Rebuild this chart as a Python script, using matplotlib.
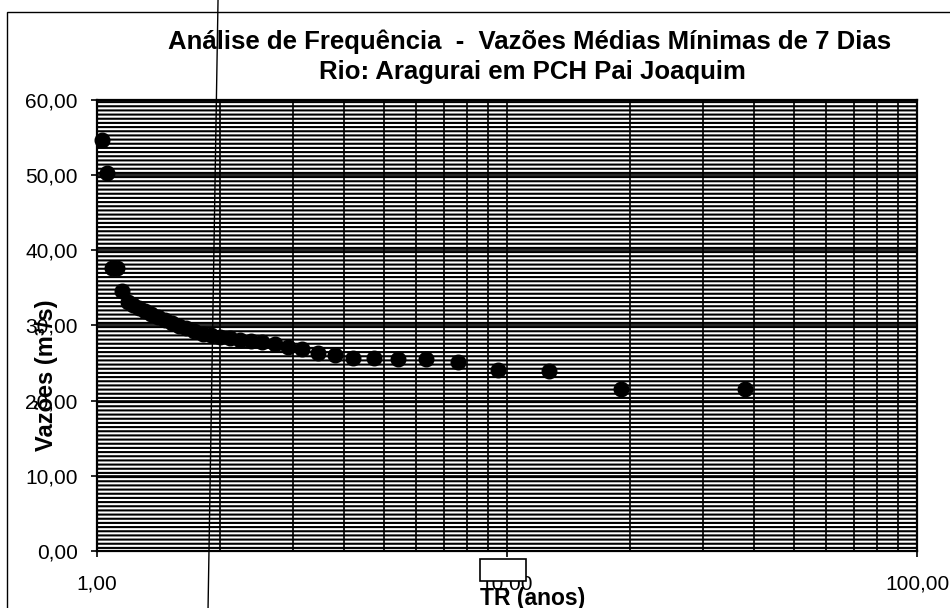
import matplotlib
matplotlib.use("Agg")
import matplotlib.pyplot as plt
from matplotlib.patches import Rectangle
from matplotlib.lines import Line2D
from matplotlib.ticker import FixedLocator, FixedFormatter, LogLocator, NullFormatter

plt.rcParams["font.family"] = ["Liberation Sans", "DejaVu Sans"]
plt.rcParams["hatch.linewidth"] = 1.5

# tempo de retorno (anos) e vazões médias mínimas de 7 dias (m³/s)
tr = [1.027, 1.056, 1.086, 1.118, 1.152, 1.188, 1.226, 1.267, 1.310, 1.357,
      1.407, 1.462, 1.520, 1.583, 1.652, 1.727, 1.810, 1.900, 2.000, 2.111,
      2.235, 2.375, 2.533, 2.714, 2.923, 3.167, 3.455, 3.800, 4.222, 4.750,
      5.429, 6.333, 7.600, 9.500, 12.667, 19.000, 38.000]
vazao = [54.7, 50.3, 37.7, 37.6, 34.6, 33.1, 32.7, 32.3, 31.9, 31.5,
         31.1, 30.7, 30.3, 29.9, 29.6, 29.3, 28.9, 28.7, 28.5, 28.4,
         28.1, 28.0, 27.8, 27.6, 27.2, 26.9, 26.3, 26.1, 25.7, 25.7,
         25.6, 25.6, 25.1, 24.1, 23.9, 21.6, 21.6]

y_ticks = [0, 10, 20, 30, 40, 50, 60]
y_labels = ["0,00", "10,00", "20,00", "30,00", "40,00", "50,00", "60,00"]
x_ticks = [1, 10, 100]
x_labels = ["1,00", "10,00", "100,00"]

fig = plt.figure(figsize=(9.5, 6.08), dpi=100)
ax = fig.add_axes([0.1021, 0.0938, 0.8632, 0.7417])

# fundo hachurado (aparência da cópia escaneada)
ax.add_patch(Rectangle((0, 0), 1, 1, transform=ax.transAxes, facecolor="white",
                       edgecolor="black", hatch="----", linewidth=0, zorder=0))

ax.set_xscale("log")
ax.set_xlim(1, 100)
ax.set_ylim(0, 60)

ax.xaxis.set_major_locator(FixedLocator(x_ticks))
ax.xaxis.set_major_formatter(FixedFormatter(x_labels))
ax.xaxis.set_minor_locator(LogLocator(base=10, subs=range(2, 10)))
ax.xaxis.set_minor_formatter(NullFormatter())
ax.yaxis.set_major_locator(FixedLocator(y_ticks))
ax.yaxis.set_major_formatter(FixedFormatter(y_labels))

ax.grid(True, which="both", axis="x", color="black", linewidth=1.2, zorder=1)
ax.grid(True, which="major", axis="y", color="black", linewidth=1.2, zorder=1)
ax.set_axisbelow(False)

ax.tick_params(axis="both", which="major", direction="out", length=4, width=1.2,
               labelsize=15, colors="black")
ax.tick_params(axis="y", which="major", pad=10)
ax.tick_params(axis="x", which="major", pad=13)
ax.tick_params(axis="x", which="minor", length=0)

for s in ax.spines.values():
    s.set_linewidth(1.6)
    s.set_color("black")

ax.plot(tr, vazao, linestyle="none", marker="o", markersize=10.5,
        markerfacecolor="black", markeredgecolor="black", zorder=5, clip_on=False)

fig.text(0.557, 0.931, "Análise de Frequência  -  Vazões Médias Mínimas de 7 Dias",
         ha="center", va="center", fontsize=18.5, fontweight="bold")
fig.text(0.560, 0.882, "Rio: Aragurai em PCH Pai Joaquim",
         ha="center", va="center", fontsize=18.5, fontweight="bold")

fig.text(0.049, 0.382, "Vazões (m³/s)", rotation=90, ha="center", va="center",
         fontsize=17, fontweight="bold")
fig.text(0.561, 0.016, "TR (anos)", ha="center", va="center",
         fontsize=16.5, fontweight="bold")

# marcas da cópia: moldura, traço vertical e caixa sobre o rótulo 10,00
fig.add_artist(Rectangle((0.0074, -0.1), 1.2, 1.08, transform=fig.transFigure,
                         fill=False, edgecolor="black", linewidth=1.0))
fig.add_artist(Line2D([0.2295, 0.219], [1.0, 0.0], transform=fig.transFigure,
                      color="black", linewidth=1.0))
fig.add_artist(Rectangle((0.5053, 0.0444), 0.0484, 0.0362, transform=fig.transFigure,
                         facecolor="white", edgecolor="black", linewidth=1.2, zorder=3))

fig.savefig("out.png", dpi=100)
